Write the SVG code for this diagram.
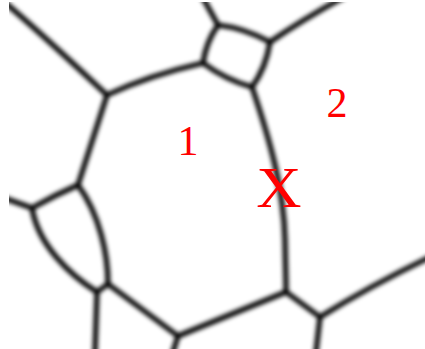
<svg xmlns="http://www.w3.org/2000/svg" width="425" height="349" viewBox="0 0 425 349">
  <defs>
    <filter id="blur" filterUnits="userSpaceOnUse" x="0" y="0" width="425" height="349">
      <feGaussianBlur stdDeviation="2.2"/>
    </filter>
    <clipPath id="frame">
      <rect x="9" y="2" width="416" height="347"/>
    </clipPath>
    <style>
      .b { fill: none; stroke: #000000; stroke-width: 5.2; stroke-linecap: round; stroke-linejoin: round; }
      .lab { fill: #ff0000; font-family: "Liberation Serif", "DejaVu Serif", serif; text-anchor: middle; }
    </style>
  </defs>
  <rect width="425" height="349" fill="#ffffff"/>
  <g id="boundaries" clip-path="url(#frame)">
    <g filter="url(#blur)">
      <path class="b" d="M2,0 C40,32 78,68 107,95"/>
      <path class="b" d="M107,95 Q150,75 203,63"/>
      <path class="b" d="M107,95 L78,185"/>
      <path class="b" d="M218,25 Q244,28 270,42 Q266,68 252,87 Q226,80 203,63 Q206,42 218,25 Z"/>
      <path class="b" d="M218,25 L203,-2"/>
      <path class="b" d="M270,42 Q302,20 342,-2"/>
      <path class="b" d="M252,87 C270,140 284,190 285,240 S286,280 286,292"/>
      <path class="b" d="M286,292 L178,336"/>
      <path class="b" d="M286,292 L320,317"/>
      <path class="b" d="M320,317 Q370,286 428,258"/>
      <path class="b" d="M320,317 L316,352"/>
      <path class="b" d="M178,336 L173,352"/>
      <path class="b" d="M108,284 L178,336"/>
      <path class="b" d="M97,292 L108,284"/>
      <path class="b" d="M97,292 L95,352"/>
      <path class="b" d="M32,208 C38,245 70,275 97,292"/>
      <path class="b" d="M78,185 C100,215 108,255 108,284"/>
      <path class="b" d="M78,185 Q55,195 32,208"/>
      <path class="b" d="M32,208 L4,198"/>
    </g>
  </g>
  <g id="labels">
    <text class="lab" x="188" y="155" font-size="42">1</text>
    <text class="lab" x="337" y="117" font-size="42">2</text>
    <text class="lab" x="279" y="207" font-size="58" transform="translate(279 0) scale(1.08 1) translate(-279 0)">X</text>
  </g>
</svg>
